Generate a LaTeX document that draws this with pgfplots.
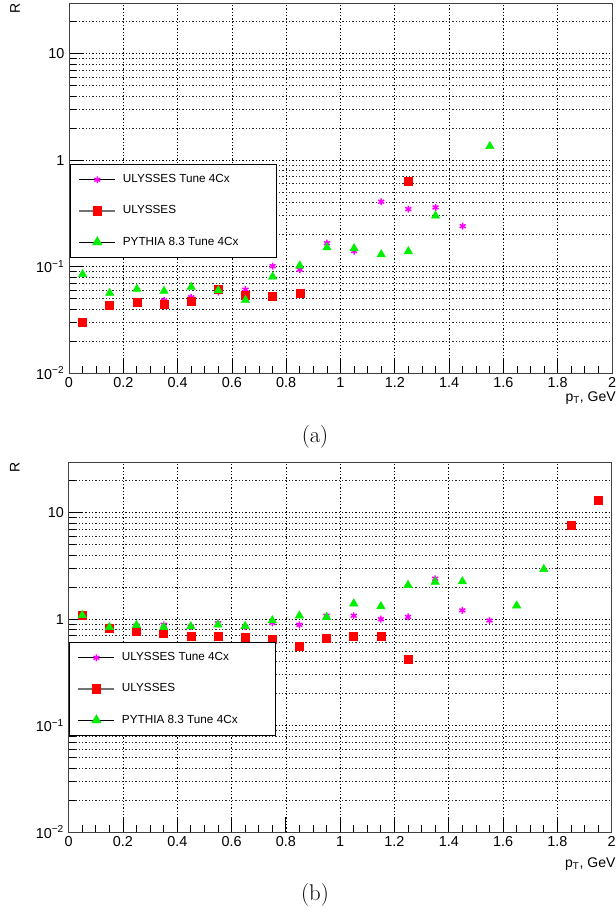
\documentclass[border=0pt]{standalone}
\usepackage{fontspec}
\setmainfont{Liberation Sans}
\newfontfamily\lmfont{Latin Modern Roman}
\usepackage{pgfplots}
\pgfplotsset{compat=1.18}

\definecolor{rgreen}{RGB}{0,240,0}
\definecolor{rred}{RGB}{255,0,0}
\definecolor{rmag}{RGB}{255,0,255}

\pgfplotsset{
    scale only axis, width=407.25pt, height=277.5pt,
    xmin=0, xmax=2, ymin=0.01, ymax=30,
    xtick={0,0.2,0.4,0.6,0.8,1,1.2,1.4,1.6,1.8,2},
    xticklabels={0,0.2,0.4,0.6,0.8,1,1.2,1.4,1.6,1.8,2},
    minor xtick={0.05,0.1,0.15,0.25,0.3,0.35,0.45,0.5,0.55,0.65,0.7,0.75,0.85,0.9,0.95,1.05,1.1,1.15,1.25,1.3,1.35,1.45,1.5,1.55,1.65,1.7,1.75,1.85,1.9,1.95},
    ytick={0.01,0.1,1,10},
    yticklabels={10\textsuperscript{−2},10\textsuperscript{−1},1,10},
    minor ytick={0.02,0.03,0.04,0.05,0.06,0.07,0.08,0.09,0.2,0.3,0.4,0.5,0.6,0.7,0.8,0.9,2,3,4,5,6,7,8,9,20},
    tick pos=lower, tick align=inside,
    major tick length=11pt, minor tick length=5pt,
    xmajorgrids=true, ymajorgrids=true, yminorgrids=true,
    major grid style={black, line width=0.5pt, dash pattern=on 1pt off 1.5pt},
    minor grid style={black!85, line width=0.5pt, dash pattern=on 1pt off 1.5pt},
    axis line style={black!75, line width=0.7pt},
    tick style={black, line width=0.6pt},
    tick label style={font=\fontsize{10.8pt}{12pt}\selectfont},
    ylabel style={at={(rel axis cs:-0.09,1)}, anchor=south east, inner sep=0pt, font=\fontsize{10.5pt}{12pt}\selectfont},
    legend cell align=left,
    legend style={draw=black, line width=0.9pt, fill=white,
      font=\fontsize{8.8pt}{10pt}\selectfont,
      inner xsep=6.4pt, inner ysep=7pt, row sep=14.6pt,
      nodes={inner sep=0pt, text height=6.6pt, text depth=2.2pt},
      /tikz/every odd column/.append style={column sep=5.25pt}},
  stardata/.style={only marks, mark=asterisk, mark size=2.6pt, rmag, mark options={line width=1.1pt}},
  sqdata/.style={only marks, mark=square*, mark size=3pt, rred},
  tridata/.style={only marks, mark=triangle*, mark size=3.6pt, rgreen},
  blacklegend/.style={legend image code/.code={
     \draw[black, line width=0.6pt, mark=none, solid] (0pt,0pt) -- (27pt,0pt);
     \draw[mark repeat=2, mark phase=2, only marks] plot coordinates {(0pt,0pt) (13.5pt,0pt) (27pt,0pt)};}},
  graylegend/.style={legend image code/.code={
     \draw[black!55, line width=0.9pt, mark=none, solid] (0pt,0pt) -- (27pt,0pt);
     \draw[mark repeat=2, mark phase=2, only marks] plot coordinates {(0pt,0pt) (13.5pt,0pt) (27pt,0pt)};}},
}

\begin{document}
\begin{tikzpicture}
\useasboundingbox (0pt,0pt) rectangle (461.25pt,-687.75pt);

% ---------- panel (a) ----------
\begin{axis}[ymode=log,
  at={(51.75pt,-279.75pt)}, anchor=south west,
  ylabel={R}, xlabel={p\textsubscript{T}, GeV},
  xlabel style={at={(rel axis cs:1,0)}, anchor=north east, inner sep=0pt, yshift=-14pt, xshift=3pt, font=\fontsize{10.5pt}{12pt}\selectfont},
  legend style={at={(0.001,0.565)}, anchor=north west}]
\addplot[stardata, blacklegend] coordinates {
 (0.35,0.048) (0.45,0.0515) (0.55,0.0576) (0.65,0.0607) (0.75,0.101) (0.85,0.0935)
 (0.95,0.166) (1.05,0.140) (1.15,0.407) (1.25,0.347) (1.35,0.360) (1.45,0.240)};
\addlegendentry{\makebox[109pt][l]{ULYSSES Tune 4Cx}}
\addplot[sqdata, graylegend] coordinates {
 (0.05,0.0297) (0.15,0.0432) (0.25,0.0458) (0.35,0.0442) (0.45,0.0471) (0.55,0.0615)
 (0.65,0.0537) (0.75,0.0522) (0.85,0.0557) (1.25,0.631)};
\addlegendentry{ULYSSES}
\addplot[tridata, blacklegend] coordinates {
 (0.05,0.0846) (0.15,0.0564) (0.25,0.0615) (0.35,0.0589) (0.45,0.0642) (0.55,0.0598)
 (0.65,0.0485) (0.75,0.0804) (0.85,0.102) (0.95,0.151) (1.05,0.148) (1.15,0.130)
 (1.25,0.139) (1.35,0.300) (1.55,1.35)};
\addlegendentry{PYTHIA 8.3 Tune 4Cx}
\end{axis}
\node[font=\lmfont\fontsize{17pt}{20pt}\selectfont] at (236.25pt,-327.75pt) {(a)};

% ---------- panel (b) ----------
\begin{axis}[ymode=log,
  at={(51.5pt,-624pt)}, anchor=south west,
  ylabel={R}, xlabel={p\textsubscript{T}, GeV},
  xlabel style={at={(rel axis cs:1,0)}, anchor=north east, inner sep=0pt, yshift=-19pt, xshift=3pt, font=\fontsize{10.5pt}{12pt}\selectfont},
  legend style={at={(0.0,0.5135)}, anchor=north west}]
\addplot[stardata, blacklegend] coordinates {
 (0.05,1.08) (0.15,0.845) (0.25,0.87) (0.35,0.886) (0.45,0.85) (0.55,0.917) (0.65,0.85)
 (0.75,0.925) (0.85,0.886) (0.95,1.077) (1.05,1.077) (1.15,1.0) (1.25,1.05)
 (1.35,2.40) (1.45,1.21) (1.55,0.972)};
\addlegendentry{\makebox[109pt][l]{ULYSSES Tune 4Cx}}
\addplot[sqdata, graylegend] coordinates {
 (0.05,1.09) (0.15,0.823) (0.25,0.762) (0.35,0.739) (0.45,0.698) (0.55,0.698)
 (0.65,0.683) (0.75,0.641) (0.85,0.551) (0.95,0.655) (1.05,0.692) (1.15,0.692)
 (1.25,0.419) (1.85,7.63) (1.95,13.2)};
\addlegendentry{ULYSSES}
\addplot[tridata, blacklegend] coordinates {
 (0.05,1.09) (0.15,0.841) (0.25,0.878) (0.35,0.841) (0.45,0.854) (0.55,0.886)
 (0.65,0.86) (0.75,0.972) (0.85,1.077) (0.95,1.045) (1.05,1.40) (1.15,1.32)
 (1.25,2.09) (1.35,2.24) (1.45,2.26) (1.65,1.34) (1.75,2.95)};
\addlegendentry{PYTHIA 8.3 Tune 4Cx}
\end{axis}
\node[font=\lmfont\fontsize{17pt}{20pt}\selectfont] at (236.25pt,-671.25pt) {(b)};
\end{tikzpicture}
\end{document}
